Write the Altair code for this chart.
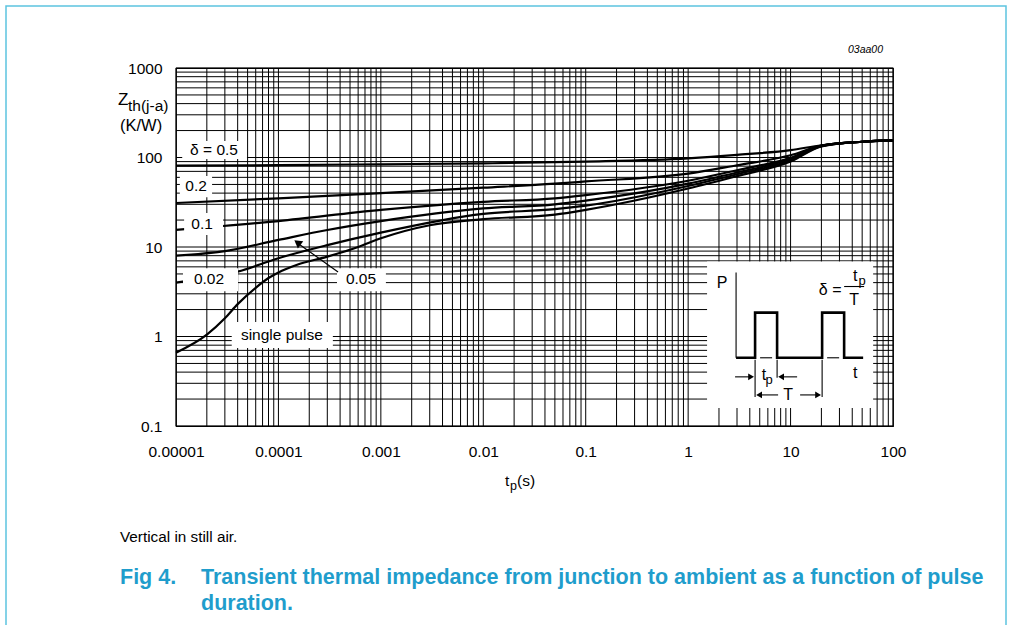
import math
import altair as alt
import pandas as pd

# ---------------- data ----------------
SERIES = ["0.5", "0.2", "0.1", "0.05", "0.02", "single pulse"]
T_D05 = [1e-5, 1e-4, 1e-3, 1e-2, 0.1, 1, 3, 10, 20, 50, 100]
Z_D05 = [81, 82, 84, 86, 90, 98, 107, 121, 137, 150, 155]
T_D02 = [1e-5, 1e-4, 1e-3, 1e-2, 0.05, 0.1, 1, 3, 10, 20, 50, 100]
Z_D02 = [31, 35, 40, 46, 51, 54, 66, 82, 106, 136, 150, 155]
T_D01 = [1e-5, 1e-4, 1e-3, 1e-2, 0.05, 0.1, 1, 3, 10, 20, 50, 100]
Z_D01 = [15.5, 19.5, 26, 32, 35, 38, 55, 72, 99, 135, 150, 155]
T_D005 = [1e-5, 3e-5, 1e-4, 3e-4, 1e-3, 1e-2, 0.05, 0.1, 1, 3, 10, 20, 50, 100]
Z_D005 = [8.0, 9.0, 12.0, 15.5, 19.5, 27, 30, 33, 51, 68, 96, 135, 150, 155]
T_D002 = [1e-5, 4e-5, 1e-4, 3e-4, 1e-3, 1e-2, 0.05, 0.1, 1, 3, 10, 20, 50, 100]
Z_D002 = [4.0, 5.3, 7.5, 10.5, 14.5, 23.5, 26.5, 29, 48, 65, 93, 134, 150, 155]
T_SP = [1e-5, 2e-5, 3e-5, 4e-5, 6e-5, 8e-5, 1e-4, 1.5e-4, 3e-4, 6e-4, 1e-3, 3e-3,
        1e-2, 0.05, 0.1, 1, 3, 10, 20, 50, 100]
Z_SP = [0.66, 1.05, 1.6, 2.3, 3.5, 4.5, 5.2, 6.3, 7.8, 10, 12.5, 17.5,
        20.5, 23, 26, 45, 62, 90, 133, 150, 155]

X_TICKS = [1e-5, 1e-4, 1e-3, 1e-2, 0.1, 1, 10, 100]
Y_TICKS = [0.1, 1, 10, 100, 1000]
X_GRID = [m * 10.0 ** k for k in range(-5, 2) for m in range(1, 10)] + [100]
Y_GRID = [m * 10.0 ** k for k in range(-1, 3) for m in range(1, 10)] + [1000]

# curve labels (data units) with white boxes
LABEL_TEXT = ["δ = 0.5", "0.2", "0.1", "0.02", "0.05", "single pulse"]
LABEL_T = [2.35e-5, 1.57e-5, 1.8e-5, 2.1e-5, 6.4e-4, 1.08e-4]
LABEL_Z = [121, 48, 18.1, 4.38, 4.38, 1.04]
BOX_T1 = [1.15e-5, 1.09e-5, 1.2e-5, 1.17e-5, 3.73e-4, 3.5e-5]
BOX_T2 = [4.93e-5, 2.25e-5, 2.88e-5, 4.03e-5, 1.12e-3, 3.4e-4]
BOX_Z1 = [96, 36, 13.6, 3.2, 3.2, 0.745]
BOX_Z2 = [153, 62, 24, 5.8, 5.8, 1.45]

# pointer arrow for the 0.05 label
ARROW_T = [3.82e-4, 1.62e-4]
ARROW_Z = [5.26, 10.6]
ARROW_HEAD = (1.57e-4, 11.0)

# inset box (data units) and its schematic drawn in box-local units
INSET_T = [1.53, 64.0]
INSET_Z = [0.159, 6.9]
INSET_W, INSET_H = 166.0, 146.0
WAVE = [(29, 96), (48, 96), (48, 51), (70, 51), (70, 96), (115, 96), (115, 51),
        (137, 51), (137, 96), (156, 96)]
THIN = [[(29, 11), (29, 96)], [(53, 96), (65, 96)], [(120, 96), (132, 96)],
        [(48, 98), (48, 135)], [(70, 98), (70, 116)], [(115, 98), (115, 135)],
        [(28, 115), (44, 115)], [(90, 115), (74, 115)], [(71, 133), (53, 133)],
        [(93, 133), (111, 133)], [(137, 25), (157, 25)]]
HEADS = [(44, 115, "triangle-right"), (74, 115, "triangle-left"),
         (52, 133, "triangle-left"), (111, 133, "triangle-right")]
INSET_TEXT = [("P", 15, 21, 16), ("t", 148, 111, 16), ("δ =", 123, 28, 16),
              ("t", 148, 15, 16), ("p", 155, 20, 13), ("T", 147, 38, 16),
              ("t", 57, 113, 16), ("p", 62, 118, 13), ("T", 81, 133, 16)]

FONT = "Liberation Sans"
W, H = 717, 358
CAPTION_COLOR = "#1f9dcc"
FRAME_COLOR = "#5cc4e0"

# ---------------- helpers ----------------
LT0, LT1 = math.log10(INSET_T[0]), math.log10(INSET_T[1])
LZB, LZT = math.log10(INSET_Z[0]), math.log10(INSET_Z[1])


def ins(dx, dy):
    t = 10 ** (LT0 + dx / INSET_W * (LT1 - LT0))
    z = 10 ** (LZT - dy / INSET_H * (LZT - LZB))
    return t, z


xs = alt.Scale(type="log", domain=[1e-5, 100], nice=False)
ys = alt.Scale(type="log", domain=[0.1, 1000], nice=False)
x_axis = alt.Axis(values=X_TICKS, format=".5~f", title=None, grid=False, ticks=False,
                  domain=False, labelFont=FONT, labelFontSize=15.5, labelColor="black",
                  labelPadding=18, labelFlush=False, labelOverlap=False)
y_axis = alt.Axis(values=Y_TICKS, format=".1~f", title=None, grid=False, ticks=False,
                  domain=False, labelFont=FONT, labelFontSize=15.5, labelColor="black",
                  labelPadding=14, labelFlush=False, labelOverlap=False)


def X(f="t"):
    return alt.X(f"{f}:Q", scale=xs, axis=x_axis)


def Y(f="z"):
    return alt.Y(f"{f}:Q", scale=ys, axis=y_axis)


# ---------------- layers ----------------
grid_x = alt.Chart(pd.DataFrame({"t": X_GRID})).mark_rule(color="black", strokeWidth=1).encode(x=X())
grid_y = alt.Chart(pd.DataFrame({"z": Y_GRID})).mark_rule(color="black", strokeWidth=1).encode(y=Y())

inset_box = alt.Chart(pd.DataFrame({"t": [INSET_T[0]], "t2": [INSET_T[1]],
                                    "z": [INSET_Z[0]], "z2": [INSET_Z[1]]})).mark_rect(
    color="white").encode(x=X(), x2="t2:Q", y=Y(), y2="z2:Q")

rows = []
for name, ts, zs in zip(SERIES, [T_D05, T_D02, T_D01, T_D005, T_D002, T_SP],
                        [Z_D05, Z_D02, Z_D01, Z_D005, Z_D002, Z_SP]):
    for i, (t, z) in enumerate(zip(ts, zs)):
        rows.append({"series": name, "i": i, "t": t, "z": z})
curves = alt.Chart(pd.DataFrame(rows)).mark_line(
    color="black", strokeWidth=2.2, interpolate="monotone").encode(
    x=X(), y=Y(), detail="series:N", order="i:Q")

lab_df = pd.DataFrame({"label": LABEL_TEXT, "t": LABEL_T, "z": LABEL_Z,
                       "bt": BOX_T1, "bt2": BOX_T2, "bz": BOX_Z1, "bz2": BOX_Z2})
label_boxes = alt.Chart(lab_df).mark_rect(color="white").encode(
    x=X("bt"), x2="bt2:Q", y=Y("bz"), y2="bz2:Q")
label_text = alt.Chart(lab_df).mark_text(
    font=FONT, fontSize=15.5, color="black", align="center", baseline="middle").encode(
    x=X(), y=Y(), text="label:N")

arrow_line = alt.Chart(pd.DataFrame({"t": ARROW_T, "z": ARROW_Z, "i": [0, 1]})).mark_line(
    color="black", strokeWidth=1.2).encode(x=X(), y=Y(), order="i:Q")
arrow_head = alt.Chart(pd.DataFrame({"t": [ARROW_HEAD[0]], "z": [ARROW_HEAD[1]]})).mark_point(
    shape="triangle", angle=307, filled=True, size=80, color="black", opacity=1).encode(x=X(), y=Y())

# inset schematic
wave_rows = []
for i, (dx, dy) in enumerate(WAVE):
    t, z = ins(dx, dy)
    wave_rows.append({"i": i, "t": t, "z": z})
wave = alt.Chart(pd.DataFrame(wave_rows)).mark_line(
    color="black", strokeWidth=2.6, strokeJoin="miter").encode(x=X(), y=Y(), order="i:Q")

thin_rows = []
for g, seg in enumerate(THIN):
    for i, (dx, dy) in enumerate(seg):
        t, z = ins(dx, dy)
        thin_rows.append({"g": g, "i": i, "t": t, "z": z})
thin = alt.Chart(pd.DataFrame(thin_rows)).mark_line(
    color="black", strokeWidth=1.1).encode(x=X(), y=Y(), detail="g:N", order="i:Q")

head_rows = []
for dx, dy, shp in HEADS:
    t, z = ins(dx, dy)
    head_rows.append({"t": t, "z": z, "shape": shp})
heads = alt.Chart(pd.DataFrame(head_rows)).mark_point(
    filled=True, size=45, color="black", opacity=1).encode(
    x=X(), y=Y(), shape=alt.Shape("shape:N", scale=None))

itext_rows = []
for txt, dx, dy, sz in INSET_TEXT:
    t, z = ins(dx, dy)
    itext_rows.append({"t": t, "z": z, "txt": txt, "sz": sz})
itext = alt.Chart(pd.DataFrame(itext_rows)).mark_text(
    font=FONT, color="black", align="center", baseline="middle").encode(
    x=X(), y=Y(), text="txt:N", size=alt.Size("sz:Q", scale=None))

# text outside the plot (pixel offsets from the plot origin)
dummy = pd.DataFrame({"a": [0]})


def ptext(txt, x, y, size=15, align="left", color="black", weight="normal", style="normal"):
    return alt.Chart(dummy).mark_text(
        text=txt, font=FONT, fontSize=size, align=align, baseline="middle",
        color=color, fontWeight=weight, fontStyle=style).encode(
        x=alt.value(x), y=alt.value(y))


texts = [
    ptext("Z", -58, 32, 17),
    ptext("th(j-a)", -48, 38, 15.5),
    ptext("(K/W)", -56, 58, 16.5),
    ptext("t", 329, 413, 15.5),
    ptext("p", 334, 418, 12.5),
    ptext("(s)", 341, 413, 15.5),
    ptext("03aa00", 707, -18, 10.5, align="right", style="italic"),
    ptext("Vertical in still air.", -56, 469, 15.3),
    ptext("Fig 4.", -56, 510, 21.5, color=CAPTION_COLOR, weight="bold"),
    ptext("Transient thermal impedance from junction to ambient as a function of pulse",
          25, 510, 21.5, color=CAPTION_COLOR, weight="bold"),
    ptext("duration.", 25, 536, 21.5, color=CAPTION_COLOR, weight="bold"),
]

frame = alt.Chart(dummy).mark_rect(filled=False, color=FRAME_COLOR, strokeWidth=1.5).encode(
    x=alt.value(-170), x2=alt.value(830), y=alt.value(-62), y2=alt.value(570))

chart = alt.layer(
    grid_x, grid_y, inset_box, curves, label_boxes, label_text, arrow_line, arrow_head,
    wave, thin, heads, itext, *texts, frame
).properties(
    width=W, height=H,
    padding={"left": 176, "top": 68, "right": 119, "bottom": 199},
    autosize=alt.AutoSizeParams(type="none"),
    background="white",
).configure_view(stroke="black", strokeWidth=1.2)

chart.save("out.html", embed_options={"renderer": "svg", "actions": False})
